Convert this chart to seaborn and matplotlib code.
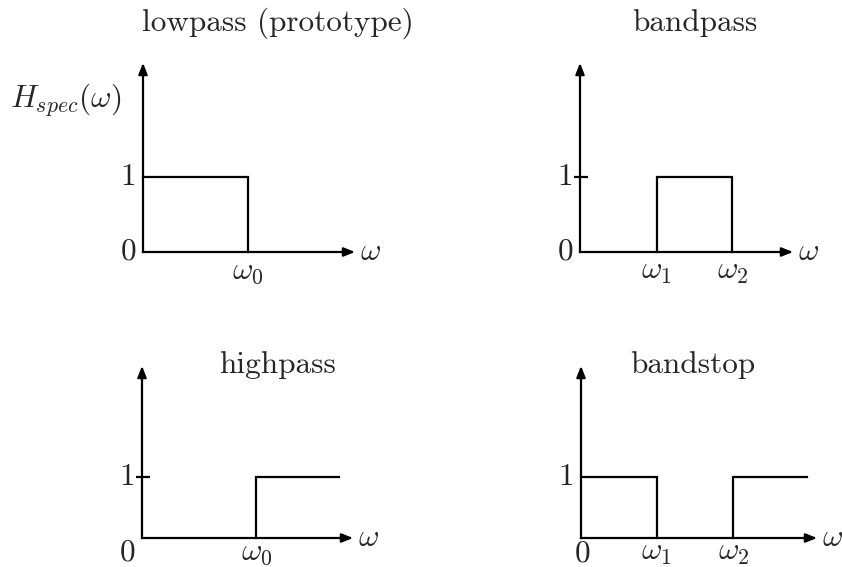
import matplotlib
matplotlib.use("Agg")
import matplotlib.pyplot as plt
import pandas as pd
import seaborn as sns

# ---- filter specifications -------------------------------------------------
panel_names = ["lowpass", "bandpass", "highpass", "bandstop"]
panel_titles = ["lowpass (prototype)", "bandpass", "highpass", "bandstop"]

passband_gain = 1.0

lowpass_cut = [1.0]
lowpass_labels = [r"$\omega_0$"]

bandpass_cut = [0.73, 1.45]
bandpass_labels = [r"$\omega_1$", r"$\omega_2$"]

highpass_cut = [1.09]
highpass_end = 1.88
highpass_labels = [r"$\omega_0$"]

bandstop_cut = [0.72, 1.45]
bandstop_end = 2.15
bandstop_labels = [r"$\omega_1$", r"$\omega_2$"]

# ---- style -----------------------------------------------------------------
sns.set_theme(style="white")
plt.rcParams["mathtext.fontset"] = "cm"
plt.rcParams["font.family"] = ["cmr10", "DejaVu Serif"]
plt.rcParams["axes.formatter.use_mathtext"] = True

FS = 22.5
LW = 1.6
W_PX, H_PX = 842, 567
SX = 105.0  # pixels per frequency unit

# ---- build the ideal magnitude responses as polylines ----------------------
rows = []


def add_curve(panel, seg, ws, hs):
    for w, h in zip(ws, hs):
        rows.append({"panel": panel, "seg": seg, "w": w, "h": h})


g = passband_gain
add_curve("lowpass", 0, [0.0, lowpass_cut[0], lowpass_cut[0]], [g, g, 0.0])
add_curve("bandpass", 0,
          [bandpass_cut[0], bandpass_cut[0], bandpass_cut[1], bandpass_cut[1]],
          [0.0, g, g, 0.0])
add_curve("highpass", 0, [highpass_cut[0], highpass_cut[0], highpass_end],
          [0.0, g, g])
add_curve("bandstop", 0, [0.0, bandstop_cut[0], bandstop_cut[0]], [g, g, 0.0])
add_curve("bandstop", 1, [bandstop_cut[1], bandstop_cut[1], bandstop_end],
          [0.0, g, g])
curves = pd.DataFrame(rows)

cutoffs = {
    "lowpass": (lowpass_cut, lowpass_labels),
    "bandpass": (bandpass_cut, bandpass_labels),
    "highpass": (highpass_cut, highpass_labels),
    "bandstop": (bandstop_cut, bandstop_labels),
}

# ---- panel placement (figure pixels) ----------------------------------------
layout = {
    "lowpass": dict(ox=143, oy=252, tip=355, top=63, sy=75, zero="left",
                    tick=False, title_x=278, title_y=23, wpad=-6),
    "bandpass": dict(ox=580, oy=252, tip=793, top=63, sy=75, zero="left",
                     tick=True, title_x=695, title_y=23, wpad=-6),
    "highpass": dict(ox=142, oy=538, tip=353, top=366, sy=61, zero="below_left",
                     tick=True, title_x=278, title_y=365, wpad=-1),
    "bandstop": dict(ox=581, oy=538, tip=817, top=366, sy=61, zero="below",
                     tick=False, title_x=693, title_y=365, wpad=-1),
}

fig = plt.figure(figsize=(W_PX / 100, H_PX / 100), dpi=100)
fig.patch.set_facecolor("white")

arrow_style = "-|>,head_length=0.55,head_width=0.22"

for name, title in zip(panel_names, panel_titles):
    L = layout[name]
    ax = fig.add_axes([L["ox"] / W_PX, 1 - L["oy"] / H_PX,
                       (L["tip"] - L["ox"]) / W_PX, (L["oy"] - L["top"]) / H_PX])
    xmax = (L["tip"] - L["ox"]) / SX
    ymax = (L["oy"] - L["top"]) / L["sy"]

    sns.lineplot(data=curves[curves["panel"] == name], x="w", y="h",
                 units="seg", estimator=None, sort=False, color="black",
                 lw=LW, ax=ax, legend=False)
    for line in ax.lines:
        line.set_clip_on(False)
        line.set_solid_capstyle("projecting")
        line.set_solid_joinstyle("miter")

    ax.set_xlim(0, xmax)
    ax.set_ylim(0, ymax)
    ax.axis("off")

    # coordinate axes with arrow heads
    for end in [(xmax, 0.0), (0.0, ymax)]:
        ax.annotate("", xy=end, xytext=(0.0, 0.0),
                    arrowprops=dict(arrowstyle=arrow_style, lw=LW, color="black",
                                    shrinkA=0, shrinkB=0, capstyle="projecting"),
                    annotation_clip=False)

    # tick at the passband level
    if L["tick"]:
        ax.hlines(passband_gain, -6 / SX, 8 / SX, color="black", lw=LW,
                  clip_on=False)

    # value labels on the magnitude axis
    ax.annotate(r"$1$", xy=(0, passband_gain), xytext=(-8, 0),
                textcoords="offset pixels", ha="right", va="center",
                fontsize=FS, annotation_clip=False)
    if L["zero"] == "left":
        ax.annotate(r"$0$", xy=(0, 0), xytext=(-7, 0), textcoords="offset pixels",
                    ha="right", va="center", fontsize=FS, annotation_clip=False)
    elif L["zero"] == "below_left":
        ax.annotate(r"$0$", xy=(0, 0), xytext=(-15, -1), textcoords="offset pixels",
                    ha="center", va="top", fontsize=FS, annotation_clip=False)
    else:
        ax.annotate(r"$0$", xy=(0, 0), xytext=(1, -2), textcoords="offset pixels",
                    ha="center", va="top", fontsize=FS, annotation_clip=False)

    # cutoff frequency labels
    cuts, labels = cutoffs[name]
    for c, lab in zip(cuts, labels):
        ax.annotate(lab, xy=(c, 0), xytext=(0, L["wpad"]),
                    textcoords="offset pixels", ha="center", va="top",
                    fontsize=FS, annotation_clip=False)

    # frequency axis label
    ax.annotate(r"$\omega$", xy=(xmax, 0), xytext=(5, 0),
                textcoords="offset pixels", ha="left", va="center",
                fontsize=FS, annotation_clip=False)

    if name == "lowpass":
        ax.annotate(r"$H_{spec}(\omega)$", xy=(0, 152 / L["sy"]), xytext=(-21, 0),
                    textcoords="offset pixels", ha="right", va="center",
                    fontsize=FS, annotation_clip=False)

    fig.text(L["title_x"] / W_PX, 1 - L["title_y"] / H_PX, title,
             ha="center", va="center", fontsize=FS)

fig.savefig("out.png", dpi=100, facecolor="white")
